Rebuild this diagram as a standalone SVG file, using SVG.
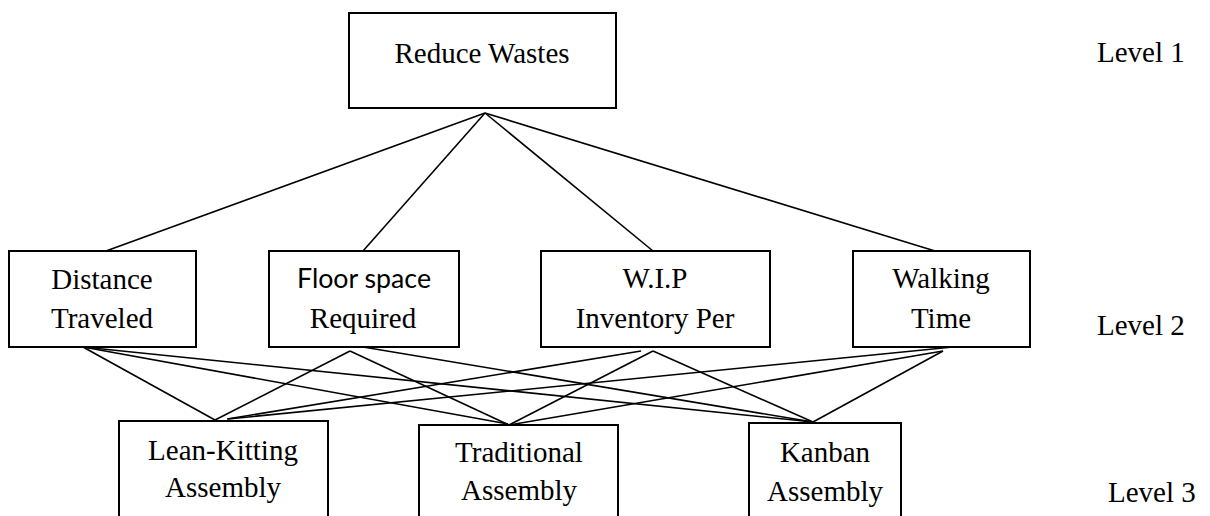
<svg xmlns="http://www.w3.org/2000/svg" width="1210" height="516" viewBox="0 0 1210 516">
<style>
rect.box{fill:#fff;stroke:#000;stroke-width:2}
text{font-family:"Liberation Serif","Times New Roman",serif;font-size:29px;fill:#000;text-anchor:middle}
text.lvl{text-anchor:start}
text.sans{font-family:"Lato","Liberation Sans",sans-serif;font-size:27px}
#connectors line{stroke:#000;stroke-width:1.6;fill:none}
</style>
<rect width="1210" height="516" fill="#fff"/>
<g id="connectors">
<line x1="485" y1="113" x2="106" y2="251"/>
<line x1="485" y1="113" x2="363" y2="251"/>
<line x1="485" y1="113" x2="653" y2="251"/>
<line x1="485" y1="113" x2="935" y2="251"/>
<line x1="83" y1="347" x2="215" y2="420"/>
<line x1="83" y1="347" x2="508" y2="424"/>
<line x1="83" y1="347" x2="813" y2="422"/>
<line x1="350" y1="351" x2="215" y2="420"/>
<line x1="350" y1="351" x2="509" y2="425"/>
<line x1="363" y1="347" x2="813" y2="422"/>
<line x1="641" y1="351" x2="227" y2="419"/>
<line x1="653" y1="351" x2="509" y2="425"/>
<line x1="653" y1="351" x2="813" y2="422"/>
<line x1="953" y1="347" x2="228" y2="419"/>
<line x1="943" y1="351" x2="509" y2="425"/>
<line x1="943" y1="351" x2="813" y2="422"/>
</g>
<g id="n-reduce"><rect class="box" x="349" y="13" width="267" height="95"/><text x="482" y="63">Reduce Wastes</text></g>
<g id="n-distance"><rect class="box" x="9" y="251" width="187" height="96"/><text x="102" y="289">Distance</text><text x="102" y="328">Traveled</text></g>
<g id="n-floor"><rect class="box" x="269" y="251" width="190" height="96"/><text class="sans" x="364" y="288" textLength="134" lengthAdjust="spacingAndGlyphs">Floor space</text><text x="363" y="328">Required</text></g>
<g id="n-wip"><rect class="box" x="541" y="251" width="229" height="96"/><text x="655" y="288">W.I.P</text><text x="655" y="328">Inventory Per</text></g>
<g id="n-walking"><rect class="box" x="853" y="251" width="177" height="96"/><text x="941" y="288">Walking</text><text x="941" y="328">Time</text></g>
<g id="n-lean"><rect class="box" x="119" y="421" width="209" height="110"/><text x="223" y="460">Lean-Kitting</text><text x="223" y="497">Assembly</text></g>
<g id="n-traditional"><rect class="box" x="419" y="425" width="199" height="106"/><text x="519" y="462">Traditional</text><text x="519" y="500">Assembly</text></g>
<g id="n-kanban"><rect class="box" x="749" y="423" width="152" height="108"/><text x="825" y="462">Kanban</text><text x="825" y="501">Assembly</text></g>
<g id="levels">
<text class="lvl" x="1097" y="62">Level 1</text>
<text class="lvl" x="1097" y="335">Level 2</text>
<text class="lvl" x="1108" y="502">Level 3</text>
</g>
</svg>
